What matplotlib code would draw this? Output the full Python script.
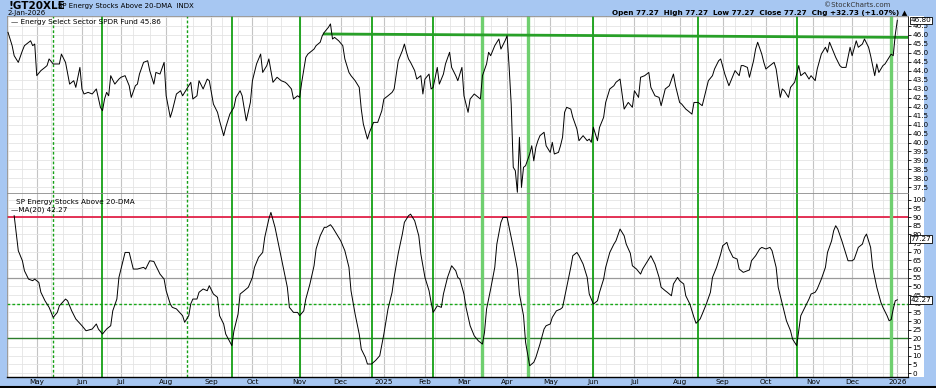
import numpy as np
import pandas as pd
import matplotlib
matplotlib.use('Agg')
import matplotlib.pyplot as plt


# trading calendar, Apr 2024 .. 2 Jan 2026 (NYSE holidays removed)
HOLIDAYS = ['2024-05-27', '2024-06-19', '2024-07-04', '2024-09-02', '2024-11-28',
            '2024-12-25', '2025-01-01', '2025-01-09', '2025-01-20', '2025-02-17',
            '2025-04-18', '2025-05-26', '2025-06-19', '2025-07-04', '2025-09-01',
            '2025-11-27', '2025-12-25', '2026-01-01']
dates = pd.bdate_range('2024-04-11', '2026-01-02')
dates = dates[~dates.isin(pd.to_datetime(HOLIDAYS))]

# XLE close (trading day number, price)
xle_day = [0, 2, 3, 5, 7, 8, 11, 12, 13, 14, 16, 18, 19, 20, 22, 25, 26, 28, 30, 32, 33, 35, 36, 37, 39,
           41, 43, 45, 46, 47, 48, 49, 50, 52, 54, 55, 57, 59, 60, 62, 63, 64, 66, 68, 69, 71, 72, 74, 76,
           77, 79, 80, 82, 84, 85, 87, 89, 90, 92, 93, 95, 96, 97, 98, 100, 102, 103, 105, 106, 108, 110,
           111, 113, 114, 116, 118, 119, 121, 123, 124, 126, 127, 129, 131, 133, 135, 136, 138, 139, 141,
           142, 143, 145, 146, 149, 150, 152, 153, 154, 156, 157, 158, 159, 161, 163, 164, 166, 167, 169,
           171, 172, 173, 175, 176, 178, 180, 182, 183, 185, 187, 188, 190, 192, 193, 194, 195, 196, 198,
           199, 201, 202, 203, 205, 206, 207, 209, 210, 212, 213, 215, 216, 218, 219, 221, 222, 224, 225,
           227, 229, 230, 231, 233, 234, 235, 237, 239, 240, 242, 243, 244, 245, 246, 247, 248, 249, 250,
           251, 252, 254, 255, 256, 257, 258, 259, 261, 262, 264, 265, 266, 268, 269, 270, 271, 272, 274,
           275, 277, 278, 280, 282, 283, 284, 285, 287, 288, 290, 291, 293, 295, 296, 298, 299, 300, 302,
           304, 305, 307, 308, 310, 312, 313, 315, 317, 318, 320, 321, 322, 324, 325, 327, 328, 330, 331,
           333, 334, 336, 338, 339, 341, 343, 344, 346, 347, 349, 351, 352, 354, 356, 357, 358, 360, 361,
           363, 364, 365, 367, 368, 369, 371, 373, 374, 376, 377, 378, 380, 381, 383, 385, 386, 388, 390,
           391, 393, 394, 396, 398, 399, 400, 402, 403, 405, 406, 408, 410, 411, 413, 414, 416, 417, 419,
           420, 422, 423, 424, 426, 427, 429, 430, 431, 432, 433]
xle_close = [46.13, 45.39, 44.83, 44.46, 45.11, 45.39, 45.66, 45.39, 45.48, 43.72, 44.0, 44.18, 44.28,
             44.65, 44.37, 44.37, 44.92, 44.46, 43.25, 43.44, 43.07, 44.18, 42.98, 42.7, 42.79, 42.7,
             42.98, 41.96, 41.77, 42.42, 42.79, 42.6, 43.72, 43.25, 43.53, 43.63, 43.72, 43.16, 42.51,
             43.16, 43.25, 43.81, 44.46, 44.55, 44.0, 43.25, 43.9, 43.81, 44.46, 42.6, 41.4, 41.77, 42.7,
             42.88, 42.6, 42.98, 43.35, 42.42, 42.6, 43.44, 42.98, 43.25, 43.53, 43.44, 42.14, 41.68,
             41.21, 40.38, 40.84, 41.58, 41.96, 42.51, 42.88, 42.6, 41.21, 42.23, 43.44, 44.37, 44.92,
             43.9, 44.28, 44.65, 43.35, 43.63, 43.44, 43.35, 43.25, 42.98, 42.42, 42.6, 42.51, 43.35,
             44.74, 44.92, 45.2, 45.39, 45.58, 45.94, 46.13, 46.41, 46.6, 45.76, 45.85, 45.66, 45.39,
             44.65, 43.9, 43.72, 43.44, 43.07, 41.86, 41.03, 40.19, 40.57, 41.12, 41.12, 41.77, 42.42,
             42.6, 42.79, 42.98, 44.55, 45.11, 45.48, 45.02, 44.65, 44.46, 44.0, 43.53, 43.72, 42.7,
             43.53, 43.81, 42.98, 43.07, 44.18, 43.25, 43.81, 44.37, 45.02, 44.18, 43.72, 43.44, 44.18,
             42.6, 41.68, 42.42, 42.7, 42.51, 42.42, 43.72, 44.37, 45.02, 44.83, 45.39, 45.76, 45.2,
             45.66, 45.94, 44.18, 42.14, 38.62, 38.43, 37.23, 40.29, 37.5, 38.62, 38.71, 39.36, 39.82,
             38.98, 39.73, 40.1, 40.38, 40.57, 39.82, 39.45, 40.01, 39.36, 39.45, 39.82, 40.29, 41.68,
             41.96, 41.86, 41.4, 40.75, 40.1, 40.38, 40.1, 40.19, 40.01, 40.84, 40.1, 40.84, 41.4, 42.23,
             42.98, 43.16, 43.35, 43.53, 42.7, 41.86, 42.23, 41.96, 42.88, 42.51, 43.63, 43.72, 43.9,
             43.07, 42.6, 42.51, 42.05, 42.98, 43.07, 43.16, 43.81, 43.16, 42.23, 42.14, 41.86, 41.77,
             41.58, 42.23, 42.23, 42.05, 42.51, 43.44, 43.72, 44.09, 44.55, 44.65, 43.81, 43.16, 43.44,
             44.0, 43.72, 44.28, 44.28, 44.18, 43.63, 44.55, 45.2, 45.58, 44.92, 44.46, 44.09, 44.28,
             44.46, 44.09, 42.51, 42.98, 42.88, 42.51, 43.07, 43.35, 44.28, 43.72, 43.9, 43.53, 43.72,
             43.44, 44.09, 44.92, 45.3, 45.02, 45.58, 45.02, 44.74, 44.28, 44.18, 44.18, 45.3, 44.83,
             45.66, 45.3, 45.48, 45.76, 45.3, 44.83, 43.72, 44.37, 43.9, 44.28, 44.37, 44.74, 44.92,
             44.83, 46.0, 46.8]

# % of SP energy stocks above 20-DMA, MA(20) line (trading day number, value)
ma_day = [3, 5, 7, 8, 10, 12, 13, 15, 16, 18, 20, 22, 24, 25, 28, 29, 31, 33, 36, 38, 41, 43, 44, 46, 48,
          50, 51, 53, 54, 56, 57, 59, 60, 61, 63, 66, 67, 69, 71, 72, 74, 76, 77, 79, 80, 82, 85, 86, 88,
          89, 90, 92, 93, 95, 97, 98, 100, 102, 103, 105, 106, 109, 110, 112, 113, 115, 117, 119, 120,
          122, 124, 125, 127, 128, 130, 132, 134, 136, 137, 139, 141, 142, 144, 145, 147, 149, 150, 152,
          154, 155, 157, 158, 160, 162, 164, 166, 167, 169, 171, 172, 174, 175, 177, 179, 181, 183, 185,
          187, 188, 190, 192, 193, 195, 196, 198, 200, 201, 203, 205, 206, 207, 209, 211, 212, 214, 216,
          218, 219, 220, 222, 223, 225, 227, 229, 231, 232, 233, 235, 237, 238, 240, 241, 243, 244, 246,
          248, 249, 251, 252, 254, 256, 257, 259, 261, 262, 264, 265, 267, 269, 270, 272, 274, 275, 277,
          278, 280, 282, 283, 285, 287, 288, 290, 291, 293, 295, 296, 298, 300, 301, 303, 304, 306, 308,
          309, 311, 313, 315, 317, 318, 320, 321, 323, 324, 326, 327, 329, 330, 332, 334, 335, 337, 338,
          340, 342, 343, 345, 347, 348, 350, 351, 353, 355, 356, 358, 360, 361, 362, 364, 366, 367, 369,
          371, 372, 374, 375, 377, 379, 381, 382, 384, 385, 386, 388, 390, 391, 393, 394, 396, 398, 399,
          401, 402, 403, 404, 406, 408, 409, 411, 412, 414, 416, 417, 418, 420, 421, 423, 425, 426, 428,
          429, 430, 431, 432, 433]
ma_value = [90.8, 70.6, 64.8, 59.0, 54.2, 53.3, 54.2, 52.3, 46.6, 41.7, 37.9, 32.1, 35.0, 38.8, 42.7, 41.7,
            35.9, 31.2, 27.3, 24.4, 25.4, 28.3, 25.4, 22.5, 25.4, 27.3, 35.9, 42.7, 55.2, 64.8, 69.6, 69.6,
            64.8, 60.0, 60.0, 61.0, 60.0, 64.8, 64.4, 61.9, 57.1, 54.2, 47.5, 39.8, 37.9, 37.0, 33.1, 29.3,
            33.1, 40.0, 42.7, 42.7, 46.6, 48.5, 47.5, 50.4, 45.6, 43.7, 33.1, 28.3, 22.5, 15.8, 24.4, 34.0,
            45.6, 47.5, 49.5, 55.2, 61.0, 66.8, 69.6, 78.3, 88.9, 92.7, 84.1, 72.5, 61.0, 49.5, 37.9, 35.0,
            35.0, 33.1, 35.9, 42.7, 51.4, 61.9, 71.6, 79.2, 84.1, 84.1, 85.6, 84.1, 80.2, 76.3, 70.6, 61.0,
            47.5, 34.0, 22.5, 13.8, 9.0, 5.2, 5.2, 7.3, 10.0, 22.5, 36.9, 46.6, 55.2, 69.1, 80.2, 87.0,
            90.8, 91.7, 87.9, 79.2, 68.7, 55.2, 47.5, 40.8, 35.0, 38.8, 37.9, 45.6, 55.2, 61.9, 59.0, 55.2,
            54.2, 45.6, 37.9, 27.3, 21.5, 18.6, 16.7, 23.5, 36.9, 48.5, 61.0, 74.4, 87.0, 89.8, 89.8, 84.1,
            72.5, 60.0, 45.6, 33.1, 17.7, 4.2, 6.2, 9.0, 16.7, 25.4, 27.3, 28.3, 32.1, 35.9, 36.9, 37.9,
            49.5, 61.0, 67.7, 69.6, 67.7, 62.9, 55.2, 45.6, 39.8, 41.7, 46.6, 54.2, 61.0, 69.6, 74.4, 76.3,
            83.1, 79.2, 74.4, 69.1, 61.9, 60.0, 57.1, 60.0, 63.9, 67.7, 62.9, 55.2, 49.5, 47.5, 46.6, 44.6,
            51.4, 55.2, 53.3, 51.4, 44.6, 39.8, 32.1, 28.7, 31.2, 34.0, 39.8, 46.6, 55.2, 61.0, 68.7, 73.5,
            75.4, 71.6, 66.8, 65.8, 60.0, 58.1, 59.0, 59.5, 64.8, 67.7, 71.6, 72.5, 71.6, 72.5, 70.6, 61.0,
            49.5, 39.8, 30.2, 24.4, 19.6, 15.8, 24.4, 33.1, 37.9, 42.7, 45.6, 46.6, 48.5, 54.2, 61.0, 69.6,
            76.3, 82.1, 85.0, 83.1, 76.3, 68.7, 64.8, 64.8, 65.7, 72.5, 74.4, 78.3, 80.2, 72.5, 61.0, 49.5,
            40.8, 37.9, 33.1, 30.2, 30.8, 36.9, 41.7, 42.27]

# annotation lines (trading day numbers)
signal_solid = [46, 109, 142, 177, 207, 285, 336, 384]
signal_dashed = [22, 87]
signal_light = [231, 253, 430]
trend_day = [154, 438]
trend_price = [46.04, 45.85]
levels = {'red': 90, 'gray': 55, 'dashed': 40, 'green': 20}

BLUE = '#a7c7f2'
W, H = 936, 388
L, R = 7.3, 908.0

fig = plt.figure(figsize=(W / 100, H / 100), dpi=100)
fig.patch.set_facecolor(BLUE)

# white strip behind the right-hand value labels
strip = fig.add_axes([R / W, 1 - 377 / H, 16 / W, 361 / H], zorder=-5)
strip.set_facecolor('white')
strip.set_xticks([])
strip.set_yticks([])
for sp in strip.spines.values():
    sp.set_visible(False)


def frac(px_top, px_bottom):
    return [L / W, 1 - px_bottom / H, (R - L) / W, (px_bottom - px_top) / H]


ax1 = fig.add_axes(frac(16, 193))
ax2 = fig.add_axes(frac(193, 376.5), sharex=ax1)

ax1.set_ylim(37.19, 47.04)
ax2.set_ylim(-2.0, 103.9)
ax1.set_xlim(-0.35, 438.2)

idx = np.arange(len(dates))
s = pd.Series(idx, index=dates)
month_first = s.groupby([dates.year, dates.month]).first()
mticks, mlabels = [], []
for (y, m), i in month_first.items():
    if dates[i].day > 5:
        continue
    mticks.append(i)
    mlabels.append(str(y) if m == 1 else dates[i].strftime('%b'))

# light gridlines roughly every third of a month
minor = []
for (y, m), i in month_first.items():
    for d in (10, 20):
        j = np.searchsorted(dates, pd.Timestamp(y, m, d))
        if j < len(dates):
            minor.append(j)

for ax in (ax1, ax2):
    ax.set_facecolor('white')
    for x in minor:
        ax.axvline(x, color='#e4e4e4', lw=0.6, zorder=0)
    for x in mticks:
        ax.axvline(x, color='#c4c4c4', lw=0.8, zorder=0)
    for sp in ax.spines.values():
        sp.set_color('#8a8a8a')
        sp.set_linewidth(0.6)
    ax.spines['right'].set_color('black')
    ax.spines['right'].set_linestyle((0, (1, 1)))

for v in np.arange(37.5, 47.01, 0.5):
    ax1.axhline(v, color='#e4e4e4', lw=0.6, zorder=0)
for v in range(0, 101, 5):
    ax2.axhline(v, color='#e4e4e4', lw=0.6, zorder=0)

# signal verticals
for ax in (ax1, ax2):
    for x in signal_solid:
        ax.axvline(x, color='#15a015', lw=1.3, zorder=2)
    for x in signal_dashed:
        ax.axvline(x, color='#15a015', lw=1.0, ls=(0, (2, 1.5)), zorder=2)
    for x in signal_light:
        ax.axvline(x, color='#6fcf6f', lw=2.4, zorder=2)

# top panel: price + trend line
ax1.plot(trend_day, trend_price, color='#28a028', lw=2.0, zorder=3)
ax1.plot(xle_day, xle_close, color='black', lw=0.7, zorder=4)

# bottom panel: levels + MA
ax2.axhline(levels['red'], color='#e0103a', lw=1.2, zorder=1)
ax2.axhline(levels['gray'], color='#9a9a9a', lw=0.9, zorder=1)
ax2.axhline(levels['dashed'], color='#18a818', lw=1.0, ls=(0, (2, 1.5)), zorder=1)
ax2.axhline(levels['green'], color='#2b7d2b', lw=1.0, zorder=1)
ax2.plot(ma_day, ma_value, color='black', lw=0.7, zorder=4)

# axes ticks
ax1.yaxis.tick_right()
ax2.yaxis.tick_right()
ax1.set_yticks(np.arange(37.5, 46.51, 0.5))
ax1.set_yticklabels(['%.1f' % v for v in np.arange(37.5, 46.51, 0.5)])
ax2.set_yticks(range(0, 101, 5))
for ax in (ax1, ax2):
    ax.tick_params(axis='y', direction='out', length=2, width=0.6, pad=1,
                   labelsize=5.2, colors='black')
ax1.tick_params(axis='x', bottom=False, labelbottom=False)
ax2.set_xticks(mticks)
ax2.set_xticklabels(mlabels)
ax2.tick_params(axis='x', length=0, pad=2, labelsize=5.2)
ax2.spines['bottom'].set_color('black')
ax2.spines['bottom'].set_linestyle((0, (1, 1)))
ax2.spines['bottom'].set_linewidth(1.0)

# value tags on the right axis
def tag(ax, y, txt):
    ax.annotate(txt, xy=(1.0, y), xycoords=('axes fraction', 'data'),
                xytext=(2, 0), textcoords='offset points', va='center', ha='left',
                fontsize=5.2, color='black',
                bbox=dict(boxstyle='square,pad=0.1', fc='white', ec='black', lw=0.6))

tag(ax1, xle_close[-1], '%.2f' % xle_close[-1])
tag(ax2, 77.27, '77.27')
tag(ax2, ma_value[-1], '%.2f' % ma_value[-1])

# legends
ax1.text(0.004, 0.985, '\u2014 Energy Select Sector SPDR Fund 45.86', transform=ax1.transAxes,
         fontsize=5.2, va='top', ha='left')
ax2.text(0.010, 0.965, 'SP Energy Stocks Above 20-DMA', transform=ax2.transAxes,
         fontsize=5.2, va='top', ha='left')
ax2.text(0.004, 0.925, '\u2014MA(20) %.2f' % ma_value[-1], transform=ax2.transAxes,
         fontsize=5.2, va='top', ha='left')

# header
fig.text(8 / W, 1 - 6 / H, '!GT20XLE', fontsize=7.5, fontweight='bold', va='center', ha='left')
fig.text(58 / W, 1 - 6 / H, 'SP Energy Stocks Above 20-DMA  INDX', fontsize=5.0, va='center', ha='left')
fig.text(8 / W, 1 - 13 / H, '2-Jan-2026', fontsize=5.0, va='center', ha='left')
fig.text(890 / W, 1 - 5 / H, '\u00a9StockCharts.com', fontsize=5.0, va='center', ha='right',
         color='#333333')
fig.text(907 / W, 1 - 13 / H,
         'Open 77.27  High 77.27  Low 77.27  Close 77.27  Chg +32.73 (+1.07%) \u25b2',
         fontsize=5.2, fontweight='bold', va='center', ha='right')

# bottom border line
fig.add_artist(plt.Line2D([0, 1], [1 / H, 1 / H], transform=fig.transFigure, color='black', lw=1.5))

fig.savefig('out.png', dpi=100, facecolor=fig.get_facecolor())
